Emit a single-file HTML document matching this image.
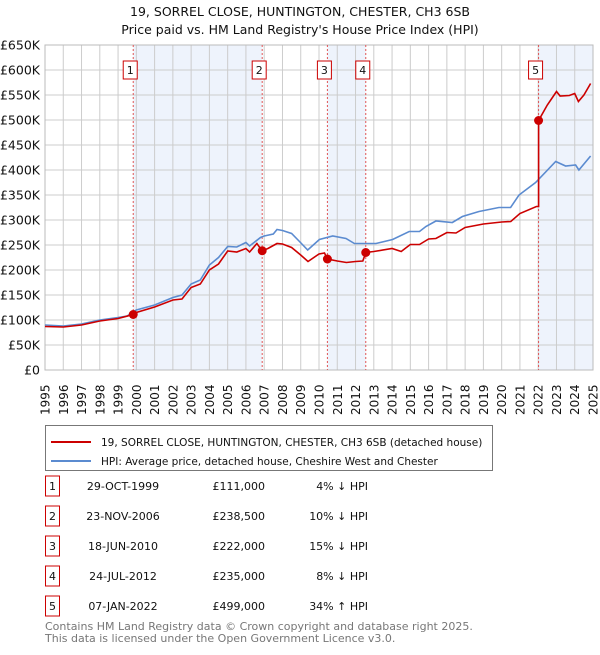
<!DOCTYPE html>
<html><head><meta charset="utf-8"><style>
body{margin:0;background:#fff;font-family:"Liberation Sans","DejaVu Sans",sans-serif;}
svg text{font-family:"DejaVu Sans","Liberation Sans",sans-serif;}
</style></head><body>
<svg id="c" width="600" height="650" xmlns="http://www.w3.org/2000/svg">
<text x="300" y="16" text-anchor="middle" font-size="12.5" fill="#111">19, SORREL CLOSE, HUNTINGTON, CHESTER, CH3 6SB</text>
<text x="300" y="34" text-anchor="middle" font-size="12.5" fill="#111">Price paid vs. HM Land Registry's House Price Index (HPI)</text>
<g id="plot"></g>
<g>
<rect x="45.5" y="425.5" width="447" height="45" fill="#fff" stroke="#777"/>
<line x1="51" y1="442" x2="91" y2="442" stroke="#cc0000" stroke-width="2"/>
<text x="101" y="446" font-size="10.5" fill="#111">19, SORREL CLOSE, HUNTINGTON, CHESTER, CH3 6SB (detached house)</text>
<line x1="51" y1="461" x2="91" y2="461" stroke="#5b8bd0" stroke-width="2"/>
<text x="101" y="465" font-size="10.5" fill="#111">HPI: Average price, detached house, Cheshire West and Chester</text>
</g>
<g id="table"></g>
<text x="45" y="630" font-size="11" fill="#777">Contains HM Land Registry data © Crown copyright and database right 2025.</text>
<text x="45" y="642" font-size="11" fill="#777">This data is licensed under the Open Government Licence v3.0.</text>
</svg>
<script>
const hpiYears=[1995,1995.5,1996,1997,1997.5,1998,1999,1999.5,1999.83,2000,2001,2002,2002.5,2003,2003.5,2004,2004.5,2005,2005.5,2006,2006.2,2006.8,2007,2007.5,2007.7,2008,2008.5,2008.93,2009.38,2010.02,2010.75,2011.48,2011.94,2013.12,2014.03,2014.94,2015.5,2015.85,2016.4,2017.3,2017.85,2018.76,2019.85,2020.49,2020.95,2021.86,2022.96,2023.5,2024.05,2024.23,2024.87];
const hpiValues=[90,89,88,92,96,100,105,108,116,120,130,145,150,172,180,210,225,247,246,255,248,265,268,272,281,279,273,257,240,261,268,263,253,253,261,277,277,287,298,295,307,317,325,325,350,375,417,408,410,400,428];
const priceYears=[1995,1996,1997,1998,1999,1999.83,2000,2001,2002,2002.5,2003,2003.5,2004,2004.5,2005,2005.5,2006,2006.2,2006.6,2006.89,2007.2,2007.7,2008,2008.5,2009,2009.4,2010,2010.3,2010.46,2011,2011.5,2012,2012.4,2012.56,2013,2014,2014.5,2015,2015.5,2016,2016.4,2017,2017.5,2018,2019,2020,2020.5,2021,2021.9,2022.02,2022.02,2022.5,2023,2023.2,2023.7,2024,2024.2,2024.5,2024.87];
const priceValues=[87,86,90,98,103,111,115,126,140,142,165,172,200,212,238,236,243,236,253,238.5,243,253,252,245,230,217,232,234,222,218,215,217,218,235,237,243,237,251,251,262,263,275,274,285,292,296,297,313,327,327,499,530,557,548,549,553,537,550,573];
const saleLabels=["1","2","3","4","5"];
const saleYears=[1999.83,2006.89,2010.46,2012.56,2022.02];
const salePrices=[111,238.5,222,235,499];
const saleDates=["29-OCT-1999","23-NOV-2006","18-JUN-2010","24-JUL-2012","07-JAN-2022"];
const salePriceText=["£111,000","£238,500","£222,000","£235,000","£499,000"];
const saleHpiText=["4% ↓ HPI","10% ↓ HPI","15% ↓ HPI","8% ↓ HPI","34% ↑ HPI"];
const yTicks=[0,50,100,150,200,250,300,350,400,450,500,550,600,650];
const yTickLabels=["£0","£50K","£100K","£150K","£200K","£250K","£300K","£350K","£400K","£450K","£500K","£550K","£600K","£650K"];
const xTicks=[1995,1996,1997,1998,1999,2000,2001,2002,2003,2004,2005,2006,2007,2008,2009,2010,2011,2012,2013,2014,2015,2016,2017,2018,2019,2020,2021,2022,2023,2024,2025];

const L=45,R=593,T=45,B=370,X0=1995,X1=2025,YMAX=650;
const xs=v=>L+(v-X0)/(X1-X0)*(R-L);
const ys=v=>B-v/YMAX*(B-T);
const NS="http://www.w3.org/2000/svg";
const plot=document.getElementById('plot');
function mk(tag,attrs,parent){const e=document.createElementNS(NS,tag);for(const k in attrs)e.setAttribute(k,attrs[k]);(parent||plot).appendChild(e);return e;}

const shades=[[saleYears[0],saleYears[1]],[saleYears[2],saleYears[3]],[saleYears[4],X1]];
shades.forEach(s=>{const r=mk('rect',{x:xs(s[0]),y:T,width:xs(s[1])-xs(s[0]),height:B-T,fill:'#eef3fc'});

});
xTicks.forEach((t,i)=>{const l=mk('line',{x1:xs(t),x2:xs(t),y1:T,y2:B,stroke:'#cccccc','stroke-width':1});


const tx=mk('text',{x:0,y:0,'font-size':12,fill:'#111',transform:`translate(${xs(t)+4.5},415) rotate(-90)`});
tx.textContent=t;

});
yTicks.forEach((t,i)=>{const l=mk('line',{x1:L,x2:R,y1:ys(t),y2:ys(t),stroke:'#cccccc','stroke-width':1});


const tx=mk('text',{x:40,y:ys(t)+4.5,'text-anchor':'end','font-size':12.5,fill:'#111'});
tx.textContent=yTickLabels[i];

});
mk('rect',{x:L,y:T,width:R-L,height:B-T,fill:'none',stroke:'#bbbbbb'});
saleYears.forEach((y,i)=>{const l=mk('line',{x1:xs(y),x2:xs(y),y1:T,y2:B,stroke:'#e05555','stroke-width':1,'stroke-dasharray':'2,2'});


const g=mk('g',{});


mk('rect',{x:xs(y)-10,y:61,width:14,height:18,fill:'#fff',stroke:'#cc0000'},g);
const t=mk('text',{x:xs(y)-3,y:74,'text-anchor':'middle','font-size':11,fill:'#111'},g);t.textContent=saleLabels[i];});
const path=(xa,va)=>xa.map((x,i)=>(i?'L':'M')+xs(x).toFixed(1)+','+ys(va[i]).toFixed(1)).join('');
const hp=mk('path',{d:path(hpiYears,hpiValues),fill:'none',stroke:'#5b8bd0','stroke-width':1.6});


const pp=mk('path',{d:path(priceYears,priceValues),fill:'none',stroke:'#cc0000','stroke-width':1.6});


saleYears.forEach((y,i)=>{const c=mk('circle',{cx:xs(y),cy:ys(salePrices[i]),r:4.5,fill:'#cc0000'});

});
const tb=document.getElementById('table');
saleLabels.forEach((s,i)=>{const y=489+i*30;
const g=mk('g',{},tb);


mk('rect',{x:45.5,y:y-13,width:14,height:20,fill:'#fff',stroke:'#cc0000'},g);
let t=mk('text',{x:52.5,y:y+1,'text-anchor':'middle','font-size':11,fill:'#111'},g);t.textContent=s;
t=mk('text',{x:123,y:y+1,'text-anchor':'middle','font-size':11,fill:'#111'},g);t.textContent=saleDates[i];
t=mk('text',{x:265,y:y+1,'text-anchor':'end','font-size':11,fill:'#111'},g);t.textContent=salePriceText[i];
t=mk('text',{x:368,y:y+1,'text-anchor':'end','font-size':11,fill:'#111'},g);t.textContent=saleHpiText[i];});
</script>
</body></html>
